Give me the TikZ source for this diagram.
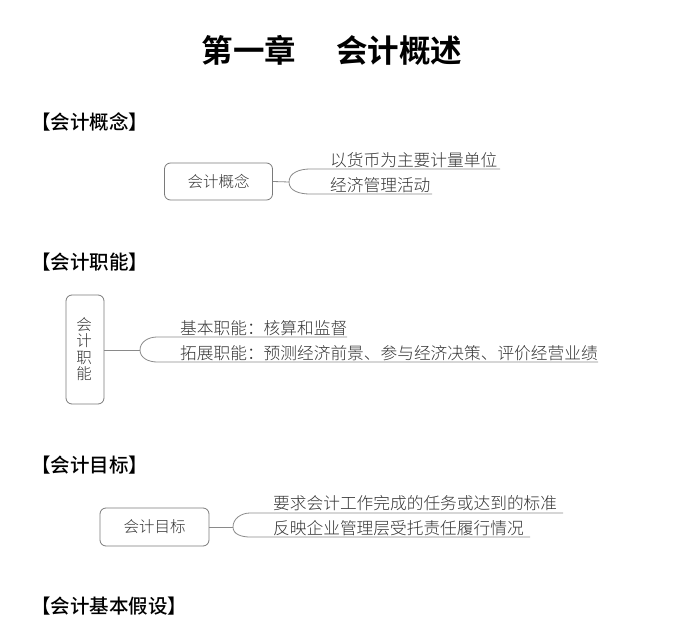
\documentclass[tikz,border=0pt]{standalone}
\usepackage{fontspec}
\newfontfamily\cjk{Noto Sans CJK SC Medium}
\newfontfamily\cjklight{Noto Sans CJK SC Light}
\newfontfamily\cjkbold{Noto Sans CJK SC Bold}
\definecolor{txt}{HTML}{333333}
\definecolor{ln}{HTML}{8A8A8A}
\definecolor{bx}{HTML}{7A7A7A}
\tikzset{
  titletext/.style={font=\cjkbold\fontsize{31.5}{34}\selectfont, text=black, inner sep=0pt},
  headtext/.style={font=\cjk\fontsize{19.5}{21}\selectfont, text=black, inner sep=0pt, anchor=west},
  leaftext/.style={font=\cjklight\fontsize{16.7}{19}\selectfont, text=txt, inner sep=0pt, anchor=west},
  topicbox/.style={draw=bx, line width=0.8pt, rounded corners=6pt, font=\cjklight\fontsize{15.5}{17}\selectfont, text=txt, inner sep=0pt},
  conn/.style={draw=ln, line width=0.8pt},
}
\begin{document}
\begin{tikzpicture}[x=1pt,y=-1pt]
\useasboundingbox (0,0) rectangle (696,620);
% title
\node[titletext] (title) at (332,50) {第一章\hspace{1.27em}会计概述};
% headings
\node[headtext] (h1) at (31,122) {【会计概念】};
\node[headtext] (h2) at (31,262) {【会计职能】};
\node[headtext] (h3) at (31,465) {【会计目标】};
\node[headtext] (h4) at (31,606) {【会计基本假设】};

% ---------- section 1 ----------
\node[topicbox, minimum width=108pt, minimum height=37pt] (b1) at (218.5,181.5) {会计概念};
\coordinate (j1) at (289,182);
\coordinate (u1s) at (310,169);
\coordinate (u1e) at (500,169);
\coordinate (l1s) at (310,194);
\coordinate (l1e) at (432,194);
\draw[conn] (b1.east) -- (j1);
\draw[conn] (j1) to[out=90,in=180] (u1s) -- (u1e);
\draw[conn] (j1) to[out=-90,in=180] (l1s) -- (l1e);
\node[leaftext] (t11) at (330,160) {以货币为主要计量单位};
\node[leaftext] (t12) at (330,185.5) {经济管理活动};

% ---------- section 2 ----------
\node[topicbox, minimum width=38pt, minimum height=109pt] (b2) at (85,349.5) {};
\node[font=\cjklight\fontsize{15.5}{16}\selectfont, text=txt, inner sep=0pt, align=center] (b2t) at (84,349) {会\\[0.5pt]计\\[0.5pt]职\\[0.5pt]能};
\coordinate (j2) at (140,350);
\coordinate (u2s) at (157,337);
\coordinate (u2e) at (347,337);
\coordinate (l2s) at (157,362);
\coordinate (l2e) at (598,362);
\draw[conn] (b2.east |- j2) -- (j2);
\draw[conn] (j2) to[out=90,in=180] (u2s) -- (u2e);
\draw[conn] (j2) to[out=-90,in=180] (l2s) -- (l2e);
\node[leaftext] (t21) at (180,328.5) {基本职能：核算和监督};
\node[leaftext] (t22) at (180,353.5) {拓展职能：预测经济前景、参与经济决策、评价经营业绩};

% ---------- section 3 ----------
\node[topicbox, minimum width=109pt, minimum height=38pt] (b3) at (154.5,527) {会计目标};
\coordinate (j3) at (233,527);
\coordinate (u3s) at (250,513);
\coordinate (u3e) at (563,513);
\coordinate (l3s) at (250,537);
\coordinate (l3e) at (530,537);
\draw[conn] (b3.east) -- (j3);
\draw[conn] (j3) to[out=90,in=180] (u3s) -- (u3e);
\draw[conn] (j3) to[out=-90,in=180] (l3s) -- (l3e);
\node[leaftext] (t31) at (273,503.5) {要求会计工作完成的任务或达到的标准};
\node[leaftext] (t32) at (273,528) {反映企业管理层受托责任履行情况};
\end{tikzpicture}
\end{document}
